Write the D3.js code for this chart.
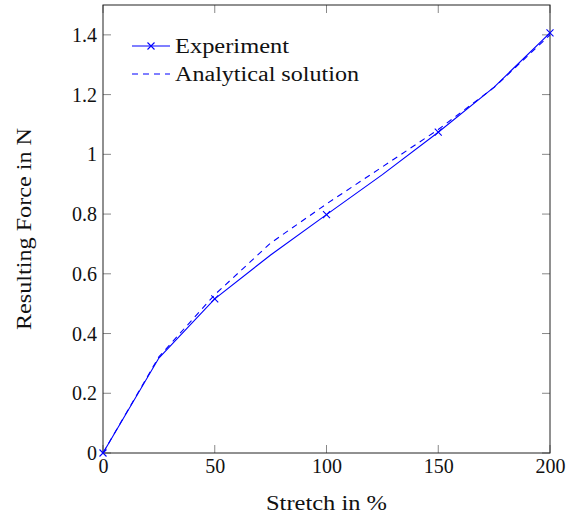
<!DOCTYPE html>
<html><head><meta charset="utf-8">
<script src="https://cdn.jsdelivr.net/npm/d3@7"></script>
<style>body{margin:0;background:#fff}svg text{font-family:"Liberation Serif","DejaVu Serif",serif;fill:#111}</style>
</head><body><svg id="c" width="567" height="519"></svg>
<script>
const stretch = [0, 25, 50, 75, 100, 125, 150, 175, 200];
const experiment = [0, 0.318, 0.516, 0.663, 0.798, 0.932, 1.074, 1.225, 1.407];
const analytical = [0, 0.322, 0.530, 0.703, 0.834, 0.958, 1.083, 1.224, 1.400];
const markerStretch = [0, 50, 100, 150, 200];
const xTicks = [0, 50, 100, 150, 200];
const yTicks = [0, 0.2, 0.4, 0.6, 0.8, 1, 1.2, 1.4];

const svg = d3.select("#c");
const L = 103, R = 550, T = 5, B = 453;
const x = d3.scaleLinear().domain([0, 200]).range([L, R]);
const y = d3.scaleLinear().domain([0, 1.5]).range([B, T]);
const fs = 20;

// ticks (inside, mirrored)
const tk = 8, tcol = "#888";
const g = svg.append("g");
xTicks.forEach(v => {
  g.append("line").attr("x1", x(v)).attr("x2", x(v)).attr("y1", B).attr("y2", B - tk).attr("stroke", tcol);
  g.append("line").attr("x1", x(v)).attr("x2", x(v)).attr("y1", T).attr("y2", T + tk).attr("stroke", tcol);
});
yTicks.forEach(v => {
  g.append("line").attr("x1", L).attr("x2", L + tk).attr("y1", y(v)).attr("y2", y(v)).attr("stroke", tcol);
  g.append("line").attr("x1", R).attr("x2", R - tk).attr("y1", y(v)).attr("y2", y(v)).attr("stroke", tcol);
});
svg.append("rect").attr("x", L).attr("y", T).attr("width", R - L).attr("height", B - T)
  .attr("fill", "none").attr("stroke", "#222").attr("stroke-width", 1);

// tick labels
const xa = d3.axisBottom(x).tickValues(xTicks).tickSize(0).tickPadding(0).tickFormat(d3.format("d"));
const xg = svg.append("g").attr("transform", `translate(0,${B})`).call(xa);
xg.select(".domain").remove();
xg.selectAll("text").attr("font-size", fs).attr("dy", null).attr("y", 20).attr("fill", "#111")
  .style("font-family", '"Liberation Serif",serif');
const ya = d3.axisLeft(y).tickValues(yTicks).tickSize(0).tickPadding(0).tickFormat(d => d3.format("")(+d.toFixed(1)));
const yg = svg.append("g").attr("transform", `translate(${L - 6},0)`).call(ya);
yg.select(".domain").remove();
yg.selectAll("text").attr("font-size", fs).attr("dy", "0.33em").attr("fill", "#111")
  .style("font-family", '"Liberation Serif",serif');

// axis titles
svg.append("text").attr("x", (L + R) / 2).attr("y", 510).attr("text-anchor", "middle").attr("font-size", fs)
  .attr("textLength", 121).attr("lengthAdjust", "spacingAndGlyphs").text("Stretch in %");
svg.append("text").attr("transform", `translate(31,${(T + B) / 2}) rotate(-90)`).attr("text-anchor", "middle").attr("font-size", fs)
  .attr("textLength", 202).attr("lengthAdjust", "spacingAndGlyphs").text("Resulting Force in N");

// lines
const blue = "#0000ff";
const line = d3.line().x(d => x(d[0])).y(d => y(d[1]));
const pg = svg.append("g");
pg.append("path").datum(stretch.map((s, i) => [s, analytical[i]])).attr("d", line)
  .attr("fill", "none").attr("stroke", blue).attr("stroke-width", 1.1).attr("stroke-dasharray", "6,5");
pg.append("path").datum(stretch.map((s, i) => [s, experiment[i]])).attr("d", line)
  .attr("fill", "none").attr("stroke", blue).attr("stroke-width", 1.1);
const ms = 3.5;
function cross(sel, cx, cy) {
  sel.append("path").attr("d", `M${cx - ms},${cy - ms}L${cx + ms},${cy + ms}M${cx - ms},${cy + ms}L${cx + ms},${cy - ms}`)
    .attr("stroke", blue).attr("stroke-width", 1.1).attr("fill", "none");
}
markerStretch.forEach(s => {
  const i = stretch.indexOf(s);
  cross(pg, x(s), y(experiment[i]));
});

// legend
const lg = svg.append("g");
const lx0 = 132, lx1 = 170, ly1 = 46, ly2 = 74;
lg.append("line").attr("x1", lx0).attr("x2", lx1).attr("y1", ly1).attr("y2", ly1).attr("stroke", blue).attr("stroke-width", 1.1);
cross(lg, (lx0 + lx1) / 2, ly1);
lg.append("line").attr("x1", lx0).attr("x2", lx1).attr("y1", ly2).attr("y2", ly2).attr("stroke", blue).attr("stroke-width", 1.1).attr("stroke-dasharray", "6,5");
lg.append("text").attr("x", 175).attr("y", ly1).attr("dy", "0.33em").attr("font-size", fs)
  .attr("textLength", 114).attr("lengthAdjust", "spacingAndGlyphs").text("Experiment");
lg.append("text").attr("x", 175).attr("y", ly2).attr("dy", "0.33em").attr("font-size", fs)
  .attr("textLength", 184).attr("lengthAdjust", "spacingAndGlyphs").text("Analytical solution");
</script></body></html>
